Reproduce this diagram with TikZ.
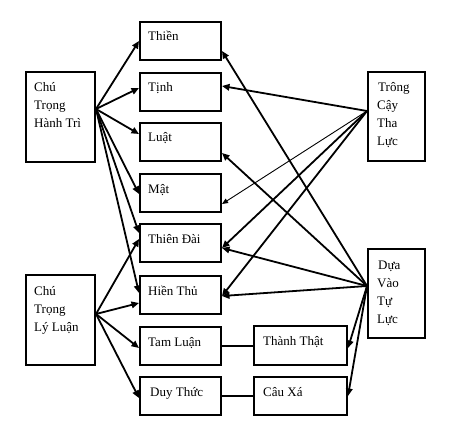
\documentclass[tikz,border=0pt]{standalone}
\usepackage{fontspec}
\setmainfont{Liberation Serif}
\usetikzlibrary{calc,arrows.meta}
\tikzset{
  box/.style={draw, line width=2pt, rectangle, inner sep=0pt, anchor=north west},
  txt/.style={inner sep=0pt, anchor=base west, font=\fontsize{13}{16}\selectfont},
  arr/.style={line width=1.8pt, -{Triangle[length=7.5pt,width=6.5pt]}},
  thinarr/.style={line width=0.9pt, -{Triangle[length=6pt,width=5pt]}},
  link/.style={line width=1.8pt}
}
\begin{document}
\begin{tikzpicture}[x=1pt,y=-1pt]
\useasboundingbox[fill=white] (0,0) rectangle (452,433);
% left boxes
\node[box, minimum width=69pt, minimum height=90pt] (htri) at (25,71) {};
\node[box, minimum width=69pt, minimum height=90pt] (lyluan) at (25,274) {};
% right boxes
\node[box, minimum width=57pt, minimum height=89pt] (thaluc) at (367,71) {};
\node[box, minimum width=57pt, minimum height=89pt] (tuluc) at (367,248) {};
% middle column
\node[box, minimum width=81pt, minimum height=38pt] (thien) at (139,21) {};
\node[box, minimum width=81pt, minimum height=38pt] (tinh) at (139,72) {};
\node[box, minimum width=81pt, minimum height=38pt] (luat) at (139,122) {};
\node[box, minimum width=81pt, minimum height=38pt] (mat) at (139,173) {};
\node[box, minimum width=81pt, minimum height=38pt] (thiendai) at (139,223) {};
\node[box, minimum width=81pt, minimum height=38pt] (hienthu) at (139,275) {};
\node[box, minimum width=81pt, minimum height=38pt] (tamluan) at (139,326) {};
\node[box, minimum width=81pt, minimum height=38pt] (duythuc) at (139,376) {};
% lower right
\node[box, minimum width=93pt, minimum height=39pt] (thanhthat) at (253,325) {};
\node[box, minimum width=93pt, minimum height=38pt] (cauxa) at (253,376) {};
% texts
\node[txt] (t1a) at (34,92) {Chú};
\node[txt] (t1b) at (34,110) {Trọng};
\node[txt] (t1c) at (34,128) {Hành Trì};
\node[txt] (t2a) at (34,295) {Chú};
\node[txt] (t2b) at (34,313) {Trọng};
\node[txt] (t2c) at (34,331) {Lý Luận};
\node[txt] (t3a) at (378,92) {Trông};
\node[txt] (t3b) at (377,110) {Cậy};
\node[txt] (t3c) at (377,128) {Tha};
\node[txt] (t3d) at (377,146) {Lực};
\node[txt] (t4a) at (378,269) {Dựa};
\node[txt] (t4b) at (377,287) {Vào};
\node[txt] (t4c) at (377,305) {Tự};
\node[txt] (t4d) at (377,323) {Lực};
\node[txt] (m1) at (148,41) {Thiền};
\node[txt] (m2) at (148,92) {Tịnh};
\node[txt] (m3) at (148,142) {Luật};
\node[txt] (m4) at (148,193) {Mật};
\node[txt] (m5) at (148,243) {Thiên Đài};
\node[txt] (m6) at (148,295) {Hiền Thủ};
\node[txt] (m7) at (148,346) {Tam Luận};
\node[txt] (m8) at (150,396) {Duy Thức};
\node[txt] (r1) at (263,345) {Thành Thật};
\node[txt] (r2) at (263,396) {Câu Xá};
% plain links
\draw[link] (tamluan.east) -- (thanhthat.west |- tamluan.east);
\draw[link] (duythuc.east) -- (cauxa.west |- duythuc.east);
% from Chu Trong Hanh Tri
\coordinate (sH) at ($(htri.east)+(0,-8)$);
\draw[arr] (sH) -- ($(thien.west)+(0,0)$);
\draw[arr] (sH) -- ($(tinh.west)+(0,-4)$);
\draw[arr] (sH) -- ($(luat.west)+(0,-8)$);
\draw[arr] (sH) -- ($(mat.west)+(0,1)$);
\draw[arr] (sH) -- ($(thiendai.west)+(0,-10)$);
\draw[arr] (sH) -- ($(hienthu.west)+(0,-2)$);
% from Chu Trong Ly Luan
\coordinate (sL) at ($(lyluan.east)+(0,-6)$);
\draw[arr] (sL) -- ($(thiendai.west)+(0,-4)$);
\draw[arr] (sL) -- ($(hienthu.west)+(0,8)$);
\draw[arr] (sL) -- ($(tamluan.west)+(0,2)$);
\draw[arr] (sL) -- ($(duythuc.west)+(0,2)$);
% from Trong Cay Tha Luc
\coordinate (sT) at ($(thaluc.west)+(0,-5.5)$);
\draw[arr] (sT) -- ($(tinh.east)+(0,-6)$);
\draw[thinarr] (sT) -- ($(mat.east)+(0,11)$);
\draw[arr] (sT) -- ($(thiendai.east)+(0,5)$);
\draw[arr] (sT) -- ($(hienthu.east)+(0,1)$);
% from Dua Vao Tu Luc
\coordinate (sD) at ($(tuluc.west)+(0,-7.5)$);
\draw[arr] (sD) -- ($(thien.east)+(0,10)$);
\draw[arr] (sD) -- ($(luat.east)+(0,11)$);
\draw[arr] (sD) -- ($(thiendai.east)+(0,5)$);
\draw[arr] (sD) -- ($(hienthu.east)+(0,1)$);
\draw[arr] (sD) -- ($(thanhthat.east)+(0,2.5)$);
\draw[arr] (sD) -- ($(cauxa.east)+(0,0)$);
\end{tikzpicture}
\end{document}
